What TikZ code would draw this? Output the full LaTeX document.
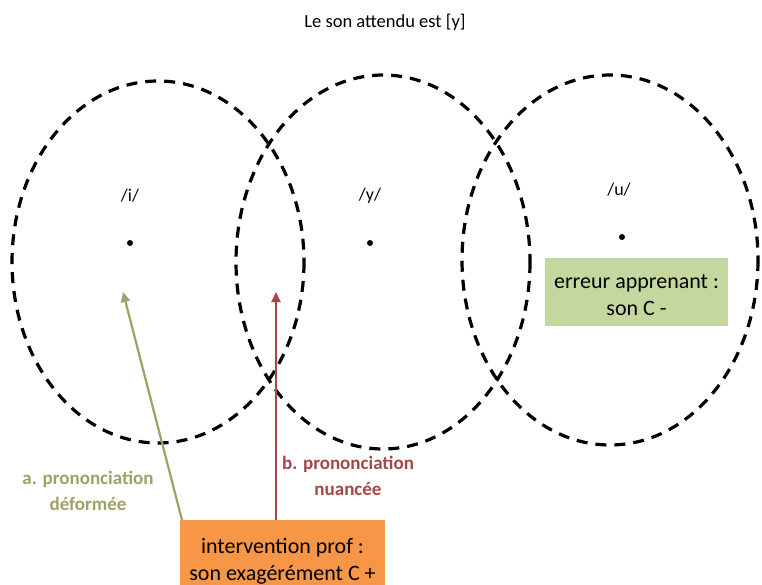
\documentclass[tikz,border=0pt]{standalone}
\usepackage{fontspec}
\setmainfont{Carlito}
\usetikzlibrary{arrows.meta}
\definecolor{boxgreen}{RGB}{196,215,158}
\definecolor{boxorange}{RGB}{247,150,70}
\definecolor{olivearrow}{RGB}{160,160,105}
\definecolor{redarrow}{RGB}{165,70,72}
\tikzset{
  zone/.style={draw=black, line width=3.2pt, dash pattern=on 11pt off 8pt},
  pt/.style={circle, fill=black, inner sep=0pt, minimum size=6pt},
  phon/.style={font=\fontsize{18}{22}\selectfont},
  infobox/.style={font=\fontsize{22}{26}\selectfont, align=center, inner sep=0pt},
  lbl/.style={font=\bfseries\fontsize{19}{26}\selectfont, align=center},
  arr/.style={line width=2.2pt, -{Triangle[length=10pt,width=9pt]}}
}
\begin{document}
\begin{tikzpicture}[x=1pt,y=-1pt]
\useasboundingbox (0,0) rectangle (762,585);
\node[font=\fontsize{18.5}{22}\selectfont] (title) at (385,22) {Le son attendu est [y]};
\draw[zone] (158,262) ellipse [x radius=146, y radius=181];
\draw[zone] (383,262) ellipse [x radius=147, y radius=187];
\draw[zone] (610,260) ellipse [x radius=148, y radius=185];
\node[pt] (di) at (130,243) {};
\node[pt] (dy) at (370,243) {};
\node[pt] (du) at (622,237) {};
\node[phon] (li) at (130,196) {/i/};
\node[phon] (ly) at (370,196) {/y/};
\node[phon] (lu) at (619,190) {/u/};
\fill[boxgreen] (545,258) rectangle (728,326);
\node[infobox] (err) at (636.5,295) {erreur apprenant :\\[1pt]son C -};
\fill[boxorange] (180,520) rectangle (385,600);
\node[infobox] (prof) at (282.5,561) {intervention prof :\\[1pt]son exagérément C +};
\coordinate (pa) at (182,520);
\coordinate (ta) at (123,292);
\coordinate (pb) at (276,520);
\coordinate (tb) at (276,292);
\draw[arr, olivearrow] (pa) -- (ta);
\draw[arr, redarrow] (pb) -- (tb);
\node[lbl, text=olivearrow] (la) at (88,491) {a. prononciation\\déformée};
\node[lbl, text=redarrow] (lb) at (348,476) {b. prononciation\\nuancée};
\end{tikzpicture}
\end{document}
